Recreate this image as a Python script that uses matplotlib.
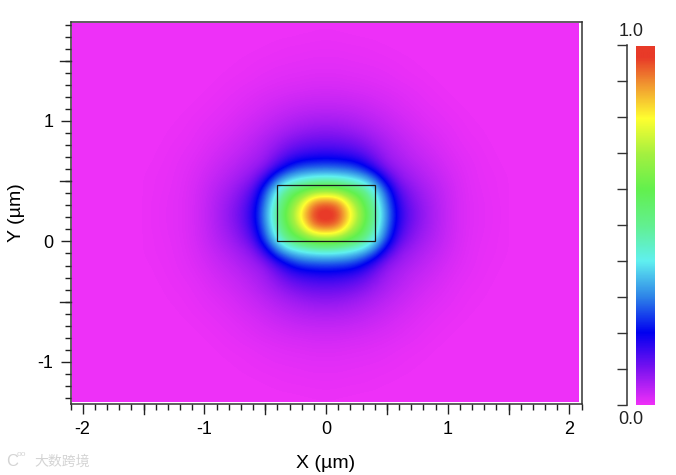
import numpy as np
import matplotlib
matplotlib.use("Agg")
import matplotlib.pyplot as plt
from matplotlib.colors import LinearSegmentedColormap
from matplotlib.patches import Rectangle
from matplotlib.ticker import MultipleLocator, FixedLocator

plt.rcParams['font.family'] = ['Liberation Sans', 'DejaVu Sans']

# values, one quadrant around the field centre
# rows go up in y from the centre, columns go out in x, anything past a row's end is 0
center_x = 0.0
center_y = 0.22
step = 0.1
quadrant_rows = [
    [1.00, .98, .83, .66, .50, .31, .17, .115, .08, .055, .035, .02, .012, .008, .005, .002],
    [.95, .92, .76, .62, .47, .29, .16, .105, .075, .053, .034, .02, .012, .008, .005, .002],
    [.69, .67, .60, .53, .41, .25, .13, .09, .065, .048, .032, .019, .011, .007, .004, .002],
    [.43, .42, .40, .36, .28, .16, .09, .07, .052, .04, .027, .017, .01, .006, .004, .002],
    [.265, .26, .25, .21, .15, .09, .07, .055, .042, .032, .022, .014, .009, .005, .003, .001],
    [.17, .165, .155, .135, .10, .07, .055, .042, .033, .025, .017, .011, .007, .004, .002],
    [.12, .118, .11, .095, .075, .058, .045, .034, .026, .019, .013, .008, .005, .003, .001],
    [.085, .083, .076, .066, .055, .044, .034, .026, .019, .014, .01, .006, .003, .002],
    [.06, .058, .054, .048, .041, .033, .026, .02, .014, .01, .007, .004, .002, .001],
    [.04, .04, .038, .034, .029, .024, .018, .014, .01, .007, .004, .002, .001],
    [.028, .027, .025, .023, .02, .017, .014, .01, .007, .004, .002, .001],
    [.018, .018, .016, .015, .013, .011, .008, .006, .004, .002, .001],
    [.012, .012, .011, .01, .009, .007, .005, .003, .002, .001],
    [.008, .008, .007, .006, .005, .004, .003, .002, .001],
    [.005, .005, .004, .004, .003, .002, .001],
    [.003, .002, .002, .001, .001],
    [.001, .001],
    [0],
]

box_x = [-0.4, 0.4]
box_y = [0.0, 0.47]

color_stops = [(0.0, "#EE30F8"), (0.1, "#7A12F0"), (0.2, "#0000F0"), (0.3, "#2E84E8"),
               (0.4, "#60F0F0"), (0.5, "#62F090"), (0.6, "#62F04E"), (0.7, "#A4F040"),
               (0.8, "#FFFF30"), (0.9, "#F09030"), (0.97, "#E83A28"), (1.0, "#E83A28")]

W, H = 676, 475


def px_axes(left, top, right, bottom):
    return [left / W, 1 - bottom / H, (right - left) / W, (bottom - top) / H]


cmap = LinearSegmentedColormap.from_list("field", color_stops, N=512)

# mirror the quadrant into the full plane
nx = 22
field_quadrant = np.zeros((len(quadrant_rows), nx))
for i, row in enumerate(quadrant_rows):
    field_quadrant[i, :len(row)] = row
upper = np.hstack([field_quadrant[:, :0:-1], field_quadrant])
field = np.vstack([upper[:0:-1], upper])
nx = field_quadrant.shape[1] - 1
ny = field_quadrant.shape[0] - 1

fig = plt.figure(figsize=(W / 100, H / 100), dpi=100)
ax = fig.add_axes(px_axes(70.5, 21.5, 581.5, 403.5))

extent = [center_x - (nx + 0.5) * step, center_x + (nx + 0.5) * step,
          center_y - (ny + 0.5) * step, center_y + (ny + 0.5) * step]
im = ax.imshow(field, origin="lower", extent=extent, cmap=cmap, vmin=0, vmax=1,
               interpolation="bicubic", interpolation_stage="data", aspect="auto")
clip = Rectangle((-2.085, -1.33), 4.165, 3.14, transform=ax.transData)
im.set_clip_path(clip)
ax.set_xlim(-2.1, 2.1)
ax.set_ylim(-1.345, 1.825)

ax.add_patch(Rectangle((box_x[0], box_y[0]), box_x[1] - box_x[0], box_y[1] - box_y[0],
                       fill=False, edgecolor="#1a1a1a", linewidth=0.9))

for side in ax.spines.values():
    side.set_color("#333333")
    side.set_linewidth(1.1)

ax.set_xticks([-2, -1, 0, 1, 2])
ax.set_yticks([-1, 0, 1])
ax.set_xticklabels(["-2", "-1", "0", "1", "2"])
ax.set_yticklabels(["-1", "0", "1"])
ax.xaxis.set_minor_locator(MultipleLocator(0.1))
ax.yaxis.set_minor_locator(MultipleLocator(0.1))
ax.tick_params(which="major", length=7.5, width=1.0, labelsize=13, color="#222222", pad=5)
ax.tick_params(which="minor", length=4, width=1.0, color="#222222")
ax.set_xlabel("X (µm)", fontsize=14, labelpad=12)
ax.set_ylabel("Y (µm)", fontsize=14, labelpad=9)

# half-unit ticks are longer than the minor ones
for v in [-1.5, -0.5, 0.5, 1.5]:
    ax.plot([v, v], [0, -0.027], transform=ax.get_xaxis_transform(), color="#222222",
            lw=1.0, clip_on=False)
for v in [-0.5, 0.5, 1.5]:
    ax.plot([0, -0.02], [v, v], transform=ax.get_yaxis_transform(), color="#222222",
            lw=1.0, clip_on=False)

# colour bar
cax = fig.add_axes(px_axes(636, 46, 655, 405))
cax.imshow(np.linspace(1, 0, 360)[:, None], cmap=cmap, vmin=0, vmax=1, aspect="auto",
           extent=[0, 1, 0, 1])
cax.axis("off")

tax = fig.add_axes(px_axes(610, 45, 626.5, 405))
tax.set_ylim(0, 1)
tax.set_xticks([])
tax.patch.set_alpha(0)
for name in ["left", "top", "bottom"]:
    tax.spines[name].set_visible(False)
tax.spines["right"].set_color("#333333")
tax.spines["right"].set_linewidth(1.1)
tax.yaxis.set_major_locator(FixedLocator(np.arange(0, 11) / 10))
tax.yaxis.tick_right()
tax.tick_params(axis="y", direction="in", length=7, width=1.0, color="#333333", labelright=False)

fig.text(631 / W, 1 - 32 / H, "1.0", fontsize=13, ha="center", va="center", color="#222222")
fig.text(631 / W, 1 - 420 / H, "0.0", fontsize=13, ha="center", va="center", color="#222222")

# watermark
fig.text(34 / W, 1 - 462 / H, "大数跨境", fontsize=10, ha="left", va="center", color="#d4d4d4",
         family=["Noto Sans CJK SC", "DejaVu Sans"])
fig.text(6 / W, 1 - 461 / H, "C", fontsize=12, ha="left", va="center", color="#d4d4d4")
fig.text(17 / W, 1 - 455 / H, "oo", fontsize=6, ha="left", va="center", color="#d4d4d4")

fig.savefig("out.png", dpi=100)
